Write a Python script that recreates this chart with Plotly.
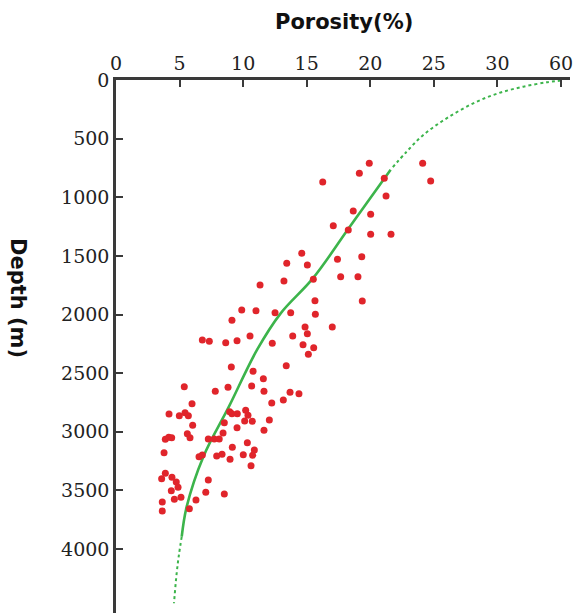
import plotly.graph_objects as go

# ---------------- data ----------------
# scatter: porosity (%) and depth (m)
por_pts = [19.92, 19.14, 21.10, 24.12, 24.75, 21.24, 18.66, 20.03, 17.09, 18.27,
           20.03, 21.63, 19.33, 17.42, 16.26, 14.61, 13.43, 15.05, 17.67, 19.03,
           13.21, 15.52, 11.33, 15.65, 19.37, 9.89, 11.01, 12.51, 13.74, 15.68,
           9.12, 14.87, 17.01, 15.05, 10.54, 13.90, 6.79, 7.34, 8.63, 9.52,
           12.29, 14.71, 15.55, 15.13, 9.07, 13.39, 10.78, 11.59, 5.37, 8.81,
           10.67, 7.81, 11.64, 13.69, 14.39, 13.16, 12.25, 5.98, 4.17, 4.98,
           5.43, 5.69, 8.94, 9.12, 9.54, 10.20, 10.38, 10.12, 10.72, 12.06,
           8.52, 6.03, 9.52, 11.64, 8.42, 5.61, 5.82, 3.88, 4.15, 4.38,
           7.26, 7.73, 8.12, 10.33, 9.15, 10.88, 3.78, 6.53, 6.79, 7.92,
           8.34, 10.01, 10.75, 8.97, 10.62, 3.88, 3.59, 4.40, 4.74, 4.88,
           4.35, 7.26, 7.06, 8.52, 5.11, 4.59, 6.29, 3.64, 5.77, 3.64]
dep_pts = [710, 796, 838, 710, 861, 989, 1117, 1145, 1243, 1279,
           1316, 1316, 1507, 1529, 870, 1478, 1563, 1578, 1678, 1678,
           1714, 1700, 1748, 1882, 1885, 1962, 1968, 1985, 1985, 1998,
           2049, 2107, 2107, 2164, 2183, 2183, 2217, 2229, 2240, 2223,
           2246, 2258, 2283, 2339, 2448, 2437, 2484, 2548, 2616, 2621,
           2610, 2655, 2655, 2664, 2675, 2729, 2755, 2761, 2849, 2863,
           2838, 2863, 2829, 2846, 2846, 2817, 2860, 2908, 2911, 2900,
           2923, 2945, 2965, 2988, 3011, 3017, 3051, 3064, 3047, 3051,
           3062, 3062, 3062, 3093, 3133, 3156, 3179, 3213, 3198, 3207,
           3192, 3196, 3201, 3235, 3290, 3354, 3400, 3388, 3429, 3474,
           3503, 3412, 3516, 3531, 3559, 3576, 3582, 3599, 3656, 3676]

# fitted trend curve (dotted extrapolations + solid fitted part)
fit_upper_por = [60.0, 53.2, 42.2, 30.4, 28.1, 26.0, 24.17, 22.86, 21.6]
fit_upper_dep = [5, 20, 57, 113, 199, 327, 469, 611, 765]
fit_solid_por = [21.6, 18.4, 15.5, 12.95, 11.1, 8.88, 6.87, 5.56, 5.17]
fit_solid_dep = [765, 1250, 1690, 1990, 2300, 2786, 3213, 3639, 3895]
fit_lower_por = [5.17, 4.95, 4.77, 4.56]
fit_lower_dep = [3895, 4050, 4208, 4463]

x_tick_labels = ["0", "5", "10", "15", "20", "25", "30", "60"]
x_tick_values = [0, 5, 10, 15, 20, 25, 30, 60]
y_tick_values = [0, 500, 1000, 1500, 2000, 2500, 3000, 3500, 4000]


# broken porosity axis: 30 -> 60 compressed into one tick interval
def axis_pos(v):
    return v if v <= 30 else 30 + (v - 30) / 6.0


GREEN = "#3cb44b"
RED = "#e0252b"

fig = go.Figure()
fig.add_trace(go.Scatter(x=[axis_pos(v) for v in fit_upper_por], y=fit_upper_dep,
                         mode="lines", line=dict(color=GREEN, width=2, dash="dot"),
                         line_shape="spline", showlegend=False, hoverinfo="skip"))
fig.add_trace(go.Scatter(x=[axis_pos(v) for v in fit_solid_por], y=fit_solid_dep,
                         mode="lines", line=dict(color=GREEN, width=2.6, smoothing=1.0),
                         line_shape="spline", showlegend=False, hoverinfo="skip"))
fig.add_trace(go.Scatter(x=[axis_pos(v) for v in fit_lower_por], y=fit_lower_dep,
                         mode="lines", line=dict(color=GREEN, width=2, dash="dot"),
                         line_shape="spline", showlegend=False, hoverinfo="skip"))
fig.add_trace(go.Scatter(x=por_pts, y=dep_pts, mode="markers",
                         marker=dict(color=RED, size=7, line=dict(width=0)),
                         showlegend=False))

W, H = 577, 613
ML, MR, MT, MB = 116, 7, 80, 0
pw, ph = W - ML - MR, H - MT - MB
px_per_unit = 63.57 / 5.0
px_per_m = 58.625 / 500.0

tick_font = dict(family="DejaVu Serif", size=19, color="#222222")

fig.update_layout(
    width=W, height=H,
    margin=dict(l=ML, r=MR, t=MT, b=MB, pad=0),
    paper_bgcolor="white", plot_bgcolor="white",
    xaxis=dict(side="top", range=[0, pw / px_per_unit],
               tickvals=[axis_pos(v) for v in x_tick_values], ticktext=x_tick_labels,
               ticks="inside", ticklen=7, tickwidth=2, tickcolor="#3a3a3a",
               showline=True, linecolor="#3a3a3a", linewidth=2.5,
               showgrid=False, zeroline=False, tickfont=tick_font),
    yaxis=dict(range=[ph / px_per_m, 0], tickvals=y_tick_values,
               ticks="inside", ticklen=7, tickwidth=2, tickcolor="#3a3a3a",
               showline=True, linecolor="#3a3a3a", linewidth=2.5,
               showgrid=False, zeroline=False, tickfont=tick_font),
    annotations=[
        dict(text="<b>Porosity(%)</b>", xref="paper", yref="paper",
             x=(344 - ML) / pw, y=1 + (MT - 22) / ph, showarrow=False,
             xanchor="center", yanchor="middle",
             font=dict(family="DejaVu Sans", size=21, color="#111111")),
        dict(text="<b>Depth (m)</b>", xref="paper", yref="paper",
             x=(18 - ML) / pw, y=1 - (298 - MT) / ph, showarrow=False,
             textangle=90, xanchor="center", yanchor="middle",
             font=dict(family="DejaVu Sans", size=21, color="#111111")),
    ],
)

fig.write_html("out.html")
